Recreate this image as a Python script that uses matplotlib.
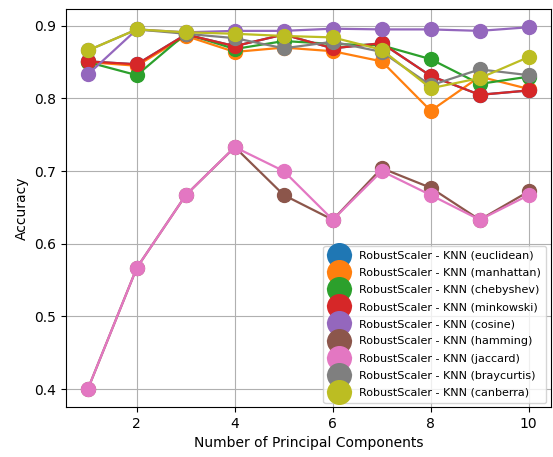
import matplotlib
matplotlib.use("Agg")
import matplotlib.pyplot as plt

components = [1, 2, 3, 4, 5, 6, 7, 8, 9, 10]

metrics = ["euclidean", "manhattan", "chebyshev", "minkowski", "cosine",
           "hamming", "jaccard", "braycurtis", "canberra"]

euclidean = [0.851, 0.847, 0.888, 0.872, 0.888, 0.869, 0.876, 0.831, 0.805, 0.811]
manhattan = [0.850, 0.845, 0.886, 0.864, 0.870, 0.865, 0.851, 0.783, 0.830, 0.813]
chebyshev = [0.850, 0.832, 0.889, 0.868, 0.879, 0.875, 0.873, 0.854, 0.820, 0.830]
minkowski = [0.851, 0.847, 0.888, 0.872, 0.888, 0.869, 0.876, 0.831, 0.805, 0.811]
cosine = [0.833, 0.895, 0.891, 0.893, 0.893, 0.896, 0.895, 0.895, 0.893, 0.898]
hamming = [0.400, 0.567, 0.667, 0.733, 0.667, 0.633, 0.704, 0.677, 0.633, 0.672]
jaccard = [0.400, 0.567, 0.667, 0.733, 0.700, 0.633, 0.700, 0.667, 0.633, 0.667]
braycurtis = [0.866, 0.895, 0.889, 0.883, 0.869, 0.878, 0.864, 0.818, 0.840, 0.832]
canberra = [0.866, 0.895, 0.891, 0.889, 0.886, 0.884, 0.867, 0.814, 0.828, 0.857]

scores = [euclidean, manhattan, chebyshev, minkowski, cosine,
          hamming, jaccard, braycurtis, canberra]

fig = plt.figure(figsize=(5.53, 4.57), dpi=100)
ax = fig.add_axes([0.119, 0.109, 0.877, 0.871])

for name, vals in zip(metrics, scores):
    ax.plot(components, vals, marker="o", markersize=10, linewidth=1.6,
            label=f"RobustScaler - KNN ({name})")

ax.set_xlabel("Number of Principal Components")
ax.set_ylabel("Accuracy")
ax.grid(True)
ax.legend(loc="lower right", fontsize=8, markerscale=1.7, borderaxespad=0.4,
          labelspacing=0.64, borderpad=0.45)

fig.savefig("out.png", dpi=100)
